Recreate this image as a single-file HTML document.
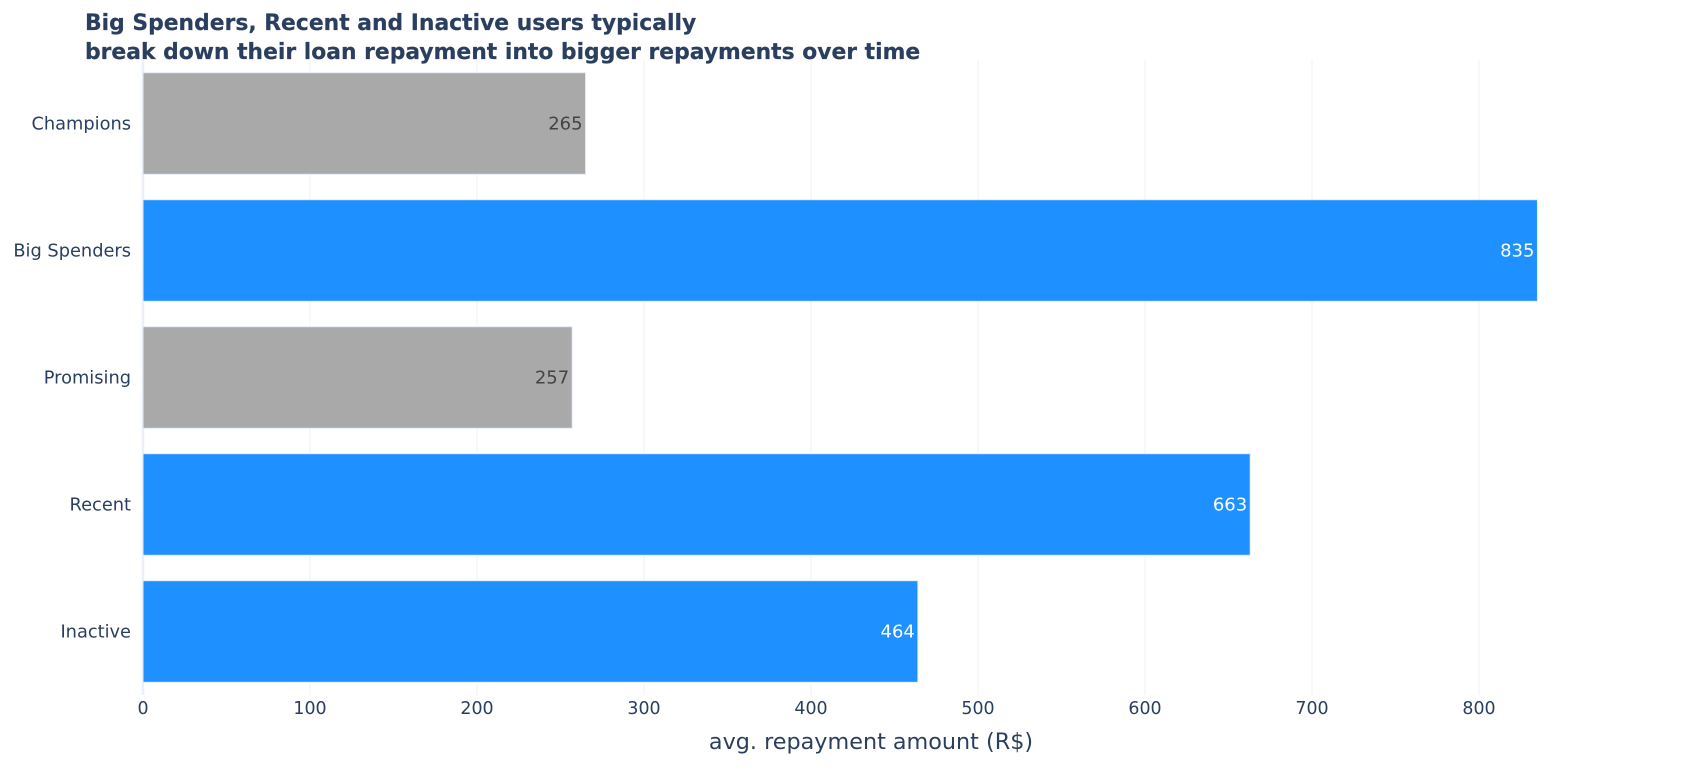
<!DOCTYPE html>
<html>
<head>
<meta charset="utf-8">
<title>Average repayment amount by segment</title>
<style>
html,body{margin:0;padding:0;background:#fff;}
body{width:1691px;height:775px;overflow:hidden;}
svg{display:block;font-family:"DejaVu Sans","Liberation Sans",sans-serif;}
</style>
</head>
<body>
<svg id="chart" xmlns="http://www.w3.org/2000/svg" width="1691" height="775" viewBox="0 0 1691 775">
  <rect x="0" y="0" width="1691" height="775" fill="#ffffff"/>
  <g id="grid"></g>
  <g id="bars"></g>
  <g id="yticks"></g>
  <g id="xticks"></g>
  <text fill="#2a3f5f" stroke="#2a3f5f" stroke-width="0.2" font-size="21.85" font-weight="bold">
    <tspan x="85" y="30">Big Spenders, Recent and Inactive users typically</tspan>
    <tspan x="85" y="59">break down their loan repayment into bigger repayments over time</tspan>
  </text>
  <text x="871" y="749" text-anchor="middle" fill="#2a3f5f" font-size="22.3">avg. repayment amount (R$)</text>
</svg>
<script>
const categories = ['Champions', 'Big Spenders', 'Promising', 'Recent', 'Inactive'];
const repaymentValues = [265, 835, 257, 663, 464];
const highlightedCategories = ['Big Spenders', 'Recent', 'Inactive'];
const xTickValues = [0, 100, 200, 300, 400, 500, 600, 700, 800];

const SVG_NS = 'http://www.w3.org/2000/svg';
const plotLeft = 143;
const plotTop = 60;
const plotBottom = 695;
const pxPerUnit = 1.67;
const bandHeight = (plotBottom - plotTop) / categories.length;
const barHeight = bandHeight * 0.8;

function xScale(v) { return plotLeft + v * pxPerUnit; }
function yScale(i) { return plotTop + bandHeight * i + bandHeight / 2; }

function make(tag, attrs, parent, text) {
  const el = document.createElementNS(SVG_NS, tag);
  for (const k in attrs) el.setAttribute(k, attrs[k]);
  if (text !== undefined) el.textContent = text;
  parent.appendChild(el);
  return el;
}

const gridG = document.getElementById('grid');
const barsG = document.getElementById('bars');
const yG = document.getElementById('yticks');
const xG = document.getElementById('xticks');

xTickValues.forEach(function (t) {
  const line = make('line', {
    x1: xScale(t), x2: xScale(t), y1: plotTop, y2: plotBottom,
    stroke: t === 0 ? '#ebf0f8' : '#f3f6fb', 'stroke-width': t === 0 ? 2.5 : 1.5
  }, gridG);
  
  

  const label = make('text', {
    x: xScale(t), y: 714, 'text-anchor': 'middle', fill: '#2a3f5f', 'font-size': 17.4
  }, xG, String(t));
  
  
});

categories.forEach(function (cat, i) {
  const value = repaymentValues[i];
  const on = highlightedCategories.indexOf(cat) !== -1;
  const cy = yScale(i);

  const bar = make('rect', {
    x: xScale(0), y: cy - barHeight / 2,
    width: xScale(value) - xScale(0), height: barHeight,
    fill: on ? '#1e90ff' : '#a9a9a9',
    stroke: '#e5ecf6', 'stroke-width': 1
  }, barsG);
  
  

  const valueLabel = make('text', {
    x: xScale(value) - 3, y: cy + 6, 'text-anchor': 'end',
    fill: on ? '#ffffff' : '#444444', 'font-size': 18
  }, barsG, String(value));
  
  

  const catLabel = make('text', {
    x: 131, y: cy + 6, 'text-anchor': 'end', fill: '#2a3f5f', 'font-size': 17.8
  }, yG, cat);
  
  
});
</script>
</body>
</html>
